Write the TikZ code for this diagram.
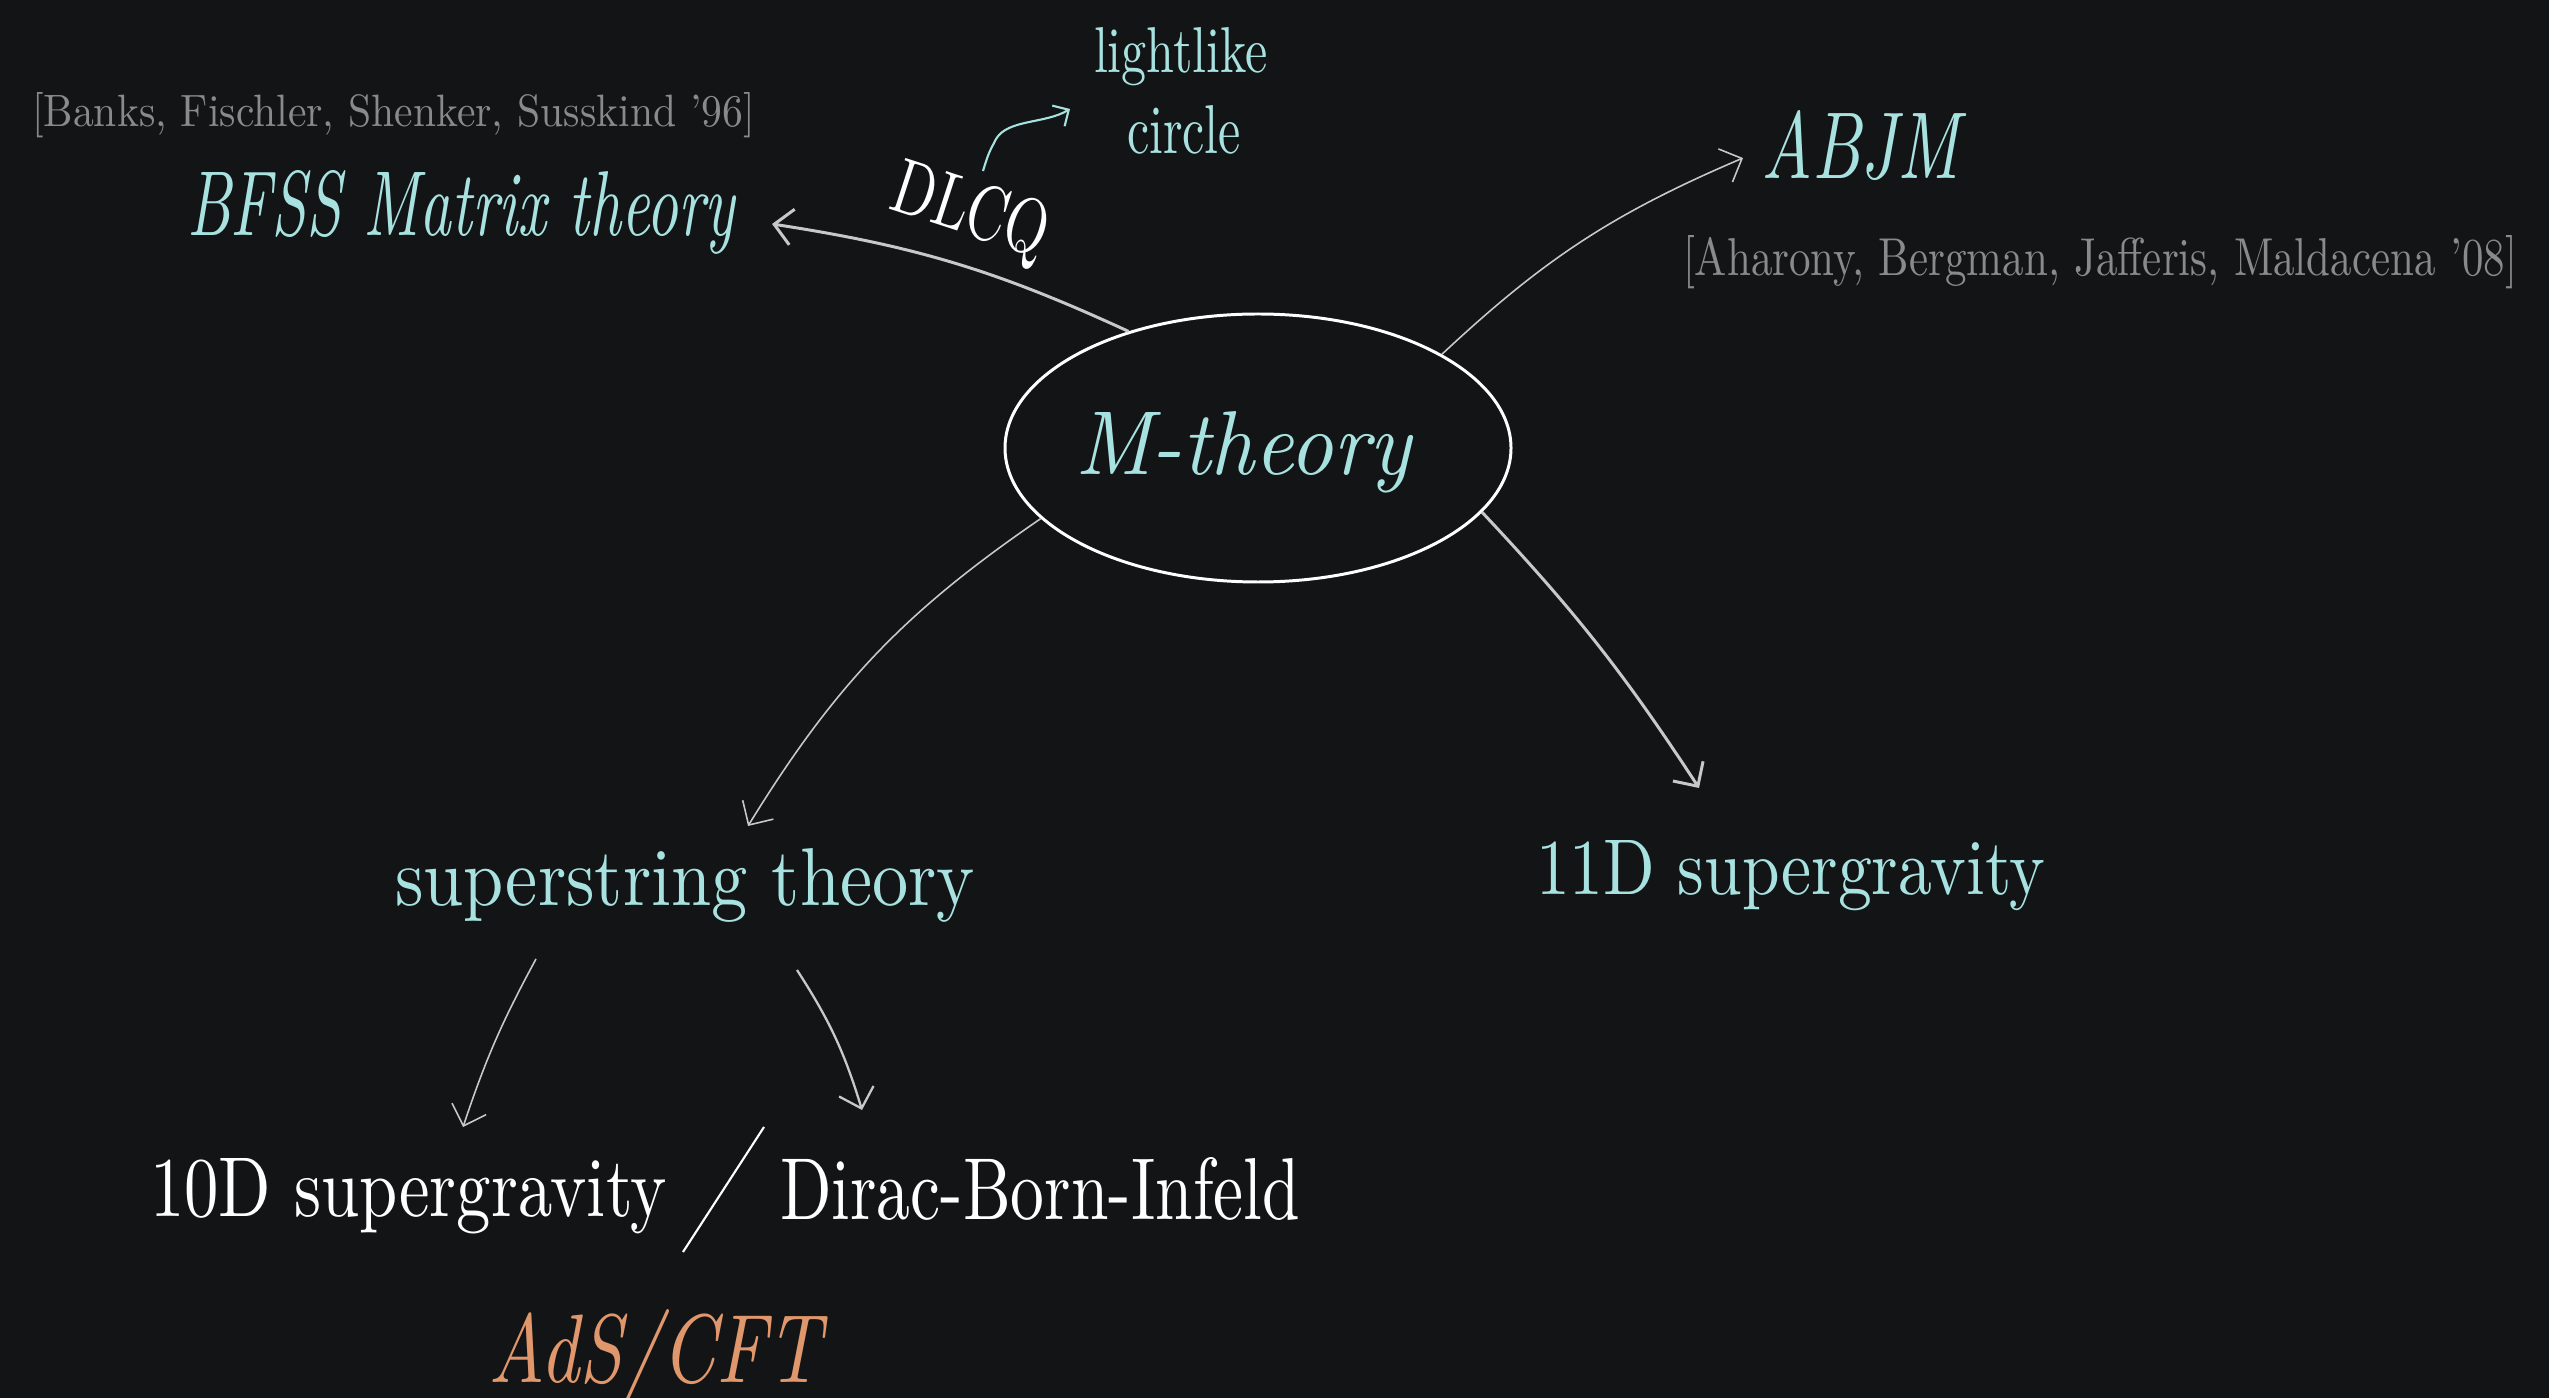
\documentclass[tikz,border=0pt]{standalone}
\usepackage{graphicx}
\usetikzlibrary{arrows.meta,calc,shapes.geometric}
\definecolor{bg}{HTML}{121416}
\definecolor{cyantxt}{HTML}{A8E2E0}
\definecolor{citegray}{HTML}{8A8A8A}
\definecolor{arrowgray}{HTML}{C8C8C8}
\definecolor{orangetxt}{HTML}{E0976C}
\newcommand{\fitbox}[3]{\resizebox{#1cm}{#2cm}{#3}}
\begin{document}
\begin{tikzpicture}[
  txt/.style={inner sep=0pt, outer sep=0pt, anchor=base west},
  cyan txt/.style={txt, text=cyantxt},
  cite txt/.style={txt, text=citegray},
  white txt/.style={txt, text=white},
  conn/.style={draw=arrowgray, line width=0.45pt, -{Straight Barb[length=1.8mm,width=3.6mm]}},
  connthick/.style={conn, line width=0.85pt},
]
\fill[bg] (0,0) rectangle (25.49,-13.98);
\useasboundingbox (0,0) rectangle (25.49,-13.98);

% central ellipse
\node[draw=white, line width=0.85pt, ellipse, minimum width=5.06cm, minimum height=2.68cm, inner sep=0pt] (mt) at (12.58,-4.48) {};
\node[cyan txt] (mtext) at (10.75,-4.75) {\fitbox{3.36}{0.63}{\itshape M-theory}};

% top-left
\node[cite txt] (banks) at (0.32,-1.27) {\fitbox{7.23}{0.34}{[Banks, Fischler, Shenker, Susskind '96]}};
\node[cyan txt] (bfss) at (1.87,-2.36) {\fitbox{5.48}{0.65}{\itshape BFSS Matrix theory}};
\node[cyan txt] (light) at (10.94,-0.73) {\fitbox{1.74}{0.45}{lightlike}};
\node[cyan txt] (circ) at (11.27,-1.54) {\fitbox{1.14}{0.48}{circle}};
\node[text=white, inner sep=0pt, rotate=-18] (dlcq) at (9.70,-2.14) {\fitbox{1.60}{0.55}{DLCQ}};

% top-right
\node[cyan txt] (abjm) at (17.61,-1.79) {\fitbox{1.98}{0.68}{\itshape ABJM}};
\node[cite txt] (aharony) at (16.83,-2.76) {\fitbox{8.34}{0.40}{[Aharony, Bergman, Jafferis, Maldacena '08]}};

% middle row
\node[cyan txt] (ss) at (3.95,-9.05) {\fitbox{5.80}{0.57}{superstring theory}};
\node[cyan txt] (eleven) at (15.36,-8.94) {\fitbox{5.09}{0.54}{11D supergravity}};

% bottom row
\node[white txt] (ten) at (1.50,-12.16) {\fitbox{5.17}{0.58}{10D supergravity}};
\node[white txt] (dbi) at (7.80,-12.19) {\fitbox{5.20}{0.62}{Dirac-Born-Infeld}};
\node[txt, text=orangetxt] (ads) at (4.88,-13.82) {\fitbox{3.33}{0.73}{\itshape AdS/CFT}};

% slash between bottom texts
\draw[white, line width=0.6pt] ($(dbi.base west)+(-0.16,0.92)$) -- ($(dbi.base west)+(-0.97,-0.33)$);

% connectors
\draw[connthick] (mt.138) to[bend right=8] ($(bfss.base east)+(0.37,0.12)$);
\draw[conn] (mt.27) to[bend left=10] ($(abjm.base west)+(-0.18,0.21)$);
\draw[conn] (mt.198) to[bend right=12] ($(ss.base west)+(3.53,0.79)$);
\draw[connthick] (mt.344) to[bend left=5] ($(eleven.base west)+(1.63,1.06)$);
\draw[conn] ($(ss.base west)+(1.41,-0.54)$) to[bend right=5] ($(ten.base west)+(3.13,0.89)$);
\draw[conn, line width=0.65pt] ($(ss.base west)+(4.02,-0.65)$) to[bend left=8] ($(dbi.base west)+(0.82,1.09)$);

% small squiggle arrow from DLCQ to lightlike circle
\draw[draw=cyantxt, line width=0.6pt, -{Straight Barb[length=1.2mm,width=2.4mm]}]
  ($(light.base west)+(-1.11,-0.98)$) .. controls +(0.06,0.20) and +(-0.06,-0.12) .. ($(light.base west)+(-0.98,-0.66)$)
  .. controls +(0.12,0.20) and +(-0.25,-0.15) .. ($(light.base west)+(-0.24,-0.36)$);
\end{tikzpicture}
\end{document}
